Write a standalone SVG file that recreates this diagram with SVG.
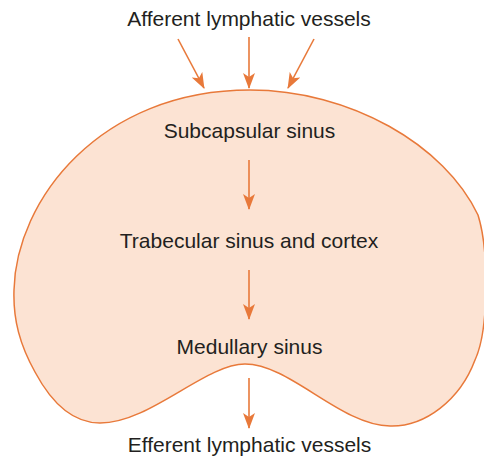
<svg xmlns="http://www.w3.org/2000/svg" width="484" height="459" viewBox="0 0 484 459">
<style>
.lbl{font-family:"Liberation Sans",Arial,sans-serif;font-size:21px;fill:#231F20;text-anchor:middle}
.arr{stroke:#E8793A;stroke-width:1.6;fill:none;marker-end:url(#ah)}
</style>
<defs>
<marker id="ah" viewBox="0 0 16 12" refX="15" refY="6" markerWidth="16" markerHeight="12" markerUnits="userSpaceOnUse" orient="auto">
<path d="M0,0 L16,6 L0,12 L4,6 Z" fill="#E8793A"/>
</marker>
</defs>
<g id="node-lymph">
<path d="M250,90 C350,90 445,145 478,215 C489,250 489,330 475,360 C460,400 425,427 390,426 C340,425 290,364 245,364 C205,364 150,423 100,423 C70,423 50,400 35,372 C20,345 13,320 14,290 C16,200 100,90 250,90 Z" fill="#FCE3D3" stroke="#E8793A" stroke-width="1.5"/>
</g>
<g id="node-afferent"><text class="lbl" x="249" y="26">Afferent lymphatic vessels</text></g>
<g id="node-subcapsular"><text class="lbl" x="249.5" y="138">Subcapsular sinus</text></g>
<g id="node-trabecular"><text class="lbl" x="249" y="248">Trabecular sinus and cortex</text></g>
<g id="node-medullary"><text class="lbl" x="249.5" y="354">Medullary sinus</text></g>
<g id="node-efferent"><text class="lbl" x="249.5" y="452">Efferent lymphatic vessels</text></g>
<g id="connectors">
<line class="arr" x1="178" y1="39" x2="204" y2="88"/>
<line class="arr" x1="249" y1="37" x2="249" y2="88"/>
<line class="arr" x1="314" y1="39" x2="288" y2="88"/>
<line class="arr" x1="249" y1="160" x2="249" y2="209"/>
<line class="arr" x1="249" y1="270" x2="249" y2="319"/>
<line class="arr" x1="249" y1="378" x2="249" y2="428"/>
</g>
</svg>
